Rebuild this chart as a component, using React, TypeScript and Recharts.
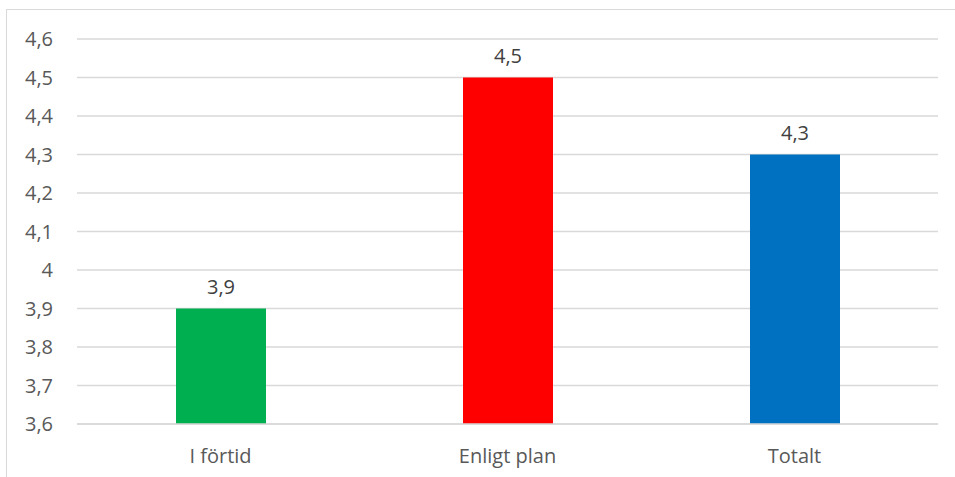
import React from 'react';
import { BarChart, Bar, XAxis, YAxis, CartesianGrid, Cell, LabelList } from 'recharts';

const categories = ['I förtid', 'Enligt plan', 'Totalt'];
const values = [3.9, 4.5, 4.3];
const yTicks = [3.6, 3.7, 3.8, 3.9, 4.0, 4.1, 4.2, 4.3, 4.4, 4.5, 4.6];
const barColors = ['#00B050', '#FF0000', '#0070C0'];

const data = categories.map((name, i) => ({ name, value: values[i] }));

const fmt = (v: number) => {
  const s = Number.isInteger(v) ? String(v) : v.toFixed(1);
  return s.replace('.', ',');
};

const fontFamily = '"Open Sans", "Liberation Sans", sans-serif';

export default function App() {
  return (
    <div
      style={{
        position: 'absolute',
        left: 0,
        top: 0,
        width: 955,
        height: 477,
        background: '#fff',
        overflow: 'hidden',
        fontFamily,
      }}
    >
      {/* chart border */}
      <div
        style={{
          position: 'absolute',
          left: 6,
          top: 9,
          width: 1000,
          height: 600,
          border: '1.5px solid #d9d9d9',
        }}
      />
      <div style={{ position: 'absolute', left: 0, top: 0 }}>
        <BarChart
          width={955}
          height={477}
          data={data}
          margin={{ top: 39, right: 17, bottom: 23, left: 17 }}
        >
          <CartesianGrid vertical={false} stroke="#d9d9d9" strokeWidth={1.5} />
          <XAxis
            dataKey="name"
            height={30}
            axisLine={{ stroke: '#d9d9d9', strokeWidth: 1.5 }}
            tickLine={false}
            tickSize={0}
            tickMargin={25}
            tick={{ fill: '#595959', fontSize: 20, fontFamily }}
          />
          <YAxis
            width={60}
            domain={[3.6, 4.6]}
            ticks={yTicks}
            interval={0}
            axisLine={false}
            tickLine={false}
            tickSize={0}
            tickMargin={24}
            tickFormatter={fmt}
            tick={{ fill: '#595959', fontSize: 20, fontFamily }}
          />
          <Bar dataKey="value" barSize={90} isAnimationActive={false}>
            {data.map((d, i) => (
              <Cell key={d.name} fill={barColors[i]} />
            ))}
            <LabelList
              dataKey="value"
              position="top"
              offset={15}
              formatter={(v: any) => fmt(Number(v))}
              style={{ fill: '#404040', fontSize: 20, fontFamily }}
            />
          </Bar>
        </BarChart>
      </div>
    </div>
  );
}
